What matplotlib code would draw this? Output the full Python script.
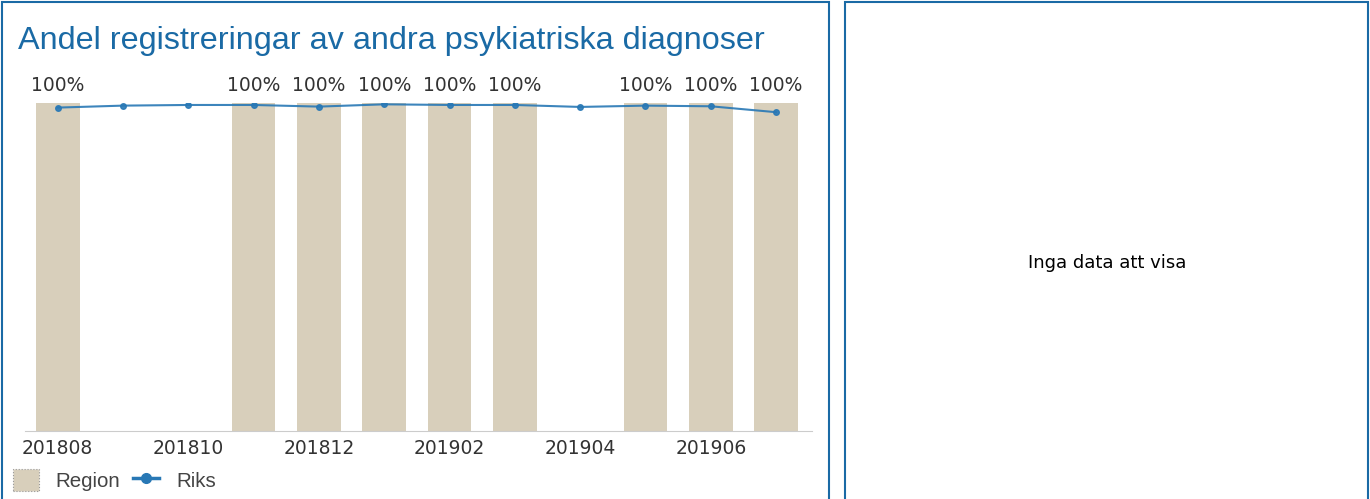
import matplotlib.pyplot as plt
import matplotlib.patches as mpatches
import numpy as np

# months shown on the x axis
months = ["201808", "201809", "201810", "201811", "201812", "201901",
          "201902", "201903", "201904", "201905", "201906", "201907"]
# region share (None = no data)
region = [100, None, None, 100, 100, 100, 100, 100, None, 100, 100, 100]
# national share
riks = [98.6, 99.2, 99.4, 99.4, 98.9, 99.6, 99.4, 99.4, 98.8, 99.2, 99.0, 97.2]

bar_col = "#d8cfbb"
line_col = "#2878b5"
blue = "#1a6aa5"
txt = "#333333"

plt.rcParams["font.family"] = ["DejaVu Sans"]

fig = plt.figure(figsize=(13.7, 4.99), dpi=100)

# panel frames
top = 1 - 2 / 499
fig.patches.append(mpatches.Rectangle((2/1370, -0.02), 827/1370, top + 0.02,
                                      transform=fig.transFigure, fill=False,
                                      edgecolor=blue, linewidth=1.5))
fig.patches.append(mpatches.Rectangle((845/1370, -0.02), 523/1370, top + 0.02,
                                      transform=fig.transFigure, fill=False,
                                      edgecolor=blue, linewidth=1.5))

fig.text(18/1370, 1 - 41/499, "Andel registreringar av andra psykiatriska diagnoser",
         fontsize=23.3, color=blue, va="center", ha="left", family="Liberation Sans")

ax = fig.add_axes([25/1370, 1 - 431/499, 787/1370, 328/499])
x = np.arange(len(months))
rx = [i for i, v in enumerate(region) if v is not None]
rv = [v for v in region if v is not None]
ax.bar(rx, rv, width=0.67, color=bar_col, zorder=1)
for xi, v in zip(rx, rv):
    ax.text(xi, v + 2.3, f"{v:.0f}%", ha="center", va="bottom", fontsize=13.5, color=txt)
ax.plot(x, riks, color=line_col, linewidth=1.5, marker="o", markersize=4, zorder=3, alpha=0.9)

ax.set_xlim(-0.5, 11.55)
ax.set_ylim(0, 100)
for s in ["top", "right", "left"]:
    ax.spines[s].set_visible(False)
ax.spines["bottom"].set_color("#cccccc")
ax.set_yticks([])
ax.set_xticks(x[::2])
ax.set_xticklabels(months[::2], fontsize=13.5, color=txt)
ax.tick_params(axis="x", length=0, pad=6)

# legend
h1 = mpatches.Patch(facecolor=bar_col, edgecolor="#999999", linestyle=":", linewidth=0.8)
h2 = plt.Line2D([], [], color=line_col, marker="o", markersize=7, linewidth=2.5)
fig.legend([h1, h2], ["Region", "Riks"], loc="center left",
           bbox_to_anchor=(-6/1370, 1 - 480/499), frameon=False, ncol=2,
           prop={"family": "Liberation Sans", "size": 14.8},
           handlelength=1.3, handleheight=1.3, columnspacing=0.6,
           handletextpad=0.8, labelcolor="#444444")

fig.text(1107/1370, 1 - 263/499, "Inga data att visa", fontsize=13, color="black",
         ha="center", va="center")

fig.savefig("out.png", dpi=100)
